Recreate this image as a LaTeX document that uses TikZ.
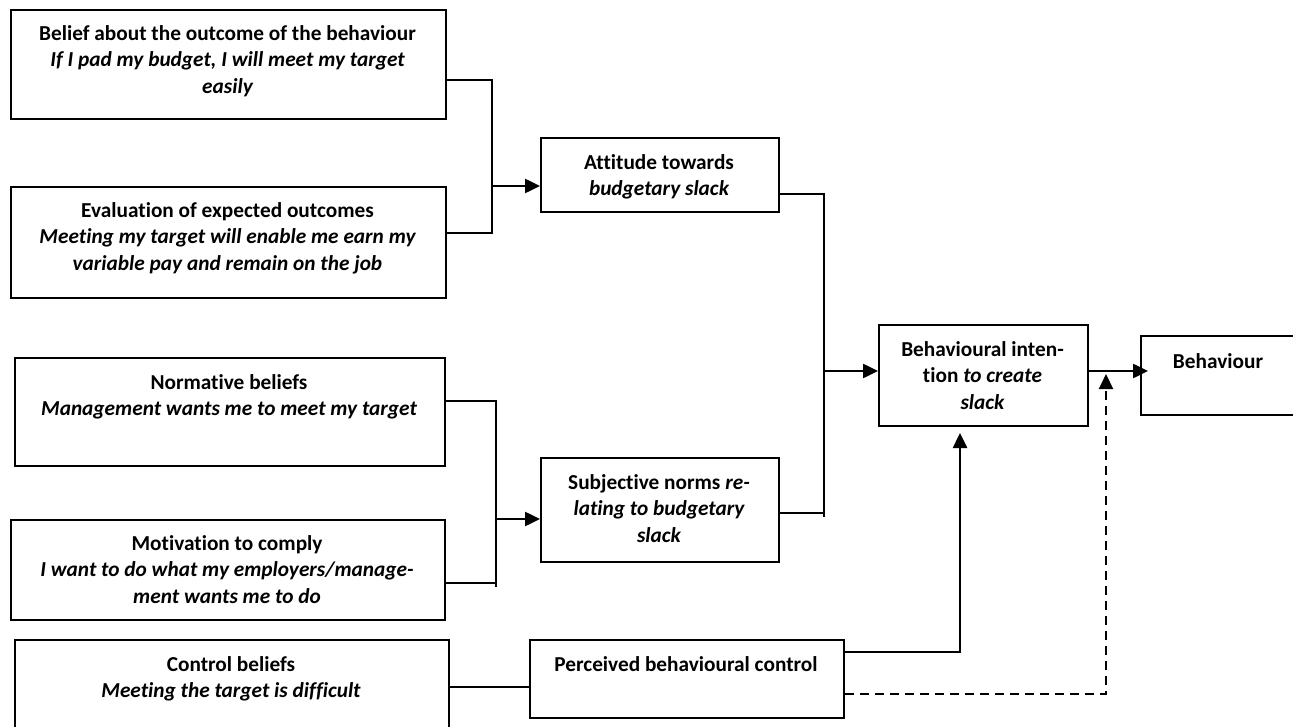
\documentclass[tikz,border=0pt]{standalone}
\usepackage{fontspec}
\setmainfont{Carlito}[Ligatures=NoCommon]
\usetikzlibrary{arrows.meta}
\tikzset{
  boxst/.style={draw, line width=2pt, rectangle, anchor=north west, inner sep=0pt},
  txt/.style={align=center, inner sep=0pt, anchor=north, font=\fontsize{21.3}{26.5}\selectfont\bfseries},
  conn/.style={line width=2pt},
  arr/.style={line width=2.5pt, -{Triangle[length=15pt,width=14pt]}},
  dashconn/.style={line width=2pt, dash pattern=on 9pt off 6pt, -{Triangle[length=15pt,width=14pt]}}
}
\newcommand{\bx}[5]{\node[boxst, minimum width=#4pt, minimum height=#5pt] (#1) at (#2,#3) {};}
\begin{document}
\begin{tikzpicture}[x=1pt,y=-1pt]
\clip (0,0) rectangle (1293,727);
\fill[white] (0,0) rectangle (1293,727);
% boxes: name, x, y, width, height
\bx{belief}{10}{9}{435}{109}
\bx{eval}{10}{186}{435}{111}
\bx{att}{540}{137}{238}{74}
\bx{norm}{14}{357}{430}{108}
\bx{motiv}{10}{519}{434}{100}
\bx{subj}{540}{457}{238}{104}
\bx{ctrl}{14}{639}{434}{100}
\bx{pbc}{529}{639}{314}{78}
\bx{bi}{878}{324}{209}{101}
\bx{beh}{1140}{335}{156}{79}
% texts
\node[txt] (belief-t) at (227.5,21.5) {\strut Belief about the outcome of the behaviour\\\itshape If I pad my budget, I will meet my target\\\itshape easily};
\node[txt] (eval-t) at (227.5,198.5) {\strut Evaluation of expected outcomes\\\itshape Meeting my target will enable me earn my\\\itshape variable pay and remain on the job};
\node[txt] (att-t) at (659,150.5) {\strut Attitude towards\\\itshape budgetary slack};
\node[txt] (norm-t) at (229,370.5) {\strut Normative beliefs\\\itshape Management wants me to meet my target};
\node[txt] (motiv-t) at (227,531.5) {\strut Motivation to comply\\\itshape I want to do what my employers/manage-\\\itshape ment wants me to do};
\node[txt] (subj-t) at (659,470.5) {\strut Subjective norms \textit{re-}\\\itshape lating to budgetary\\\itshape slack};
\node[txt] (ctrl-t) at (231,652.5) {\strut Control beliefs\\\itshape Meeting the target is difficult};
\node[txt] (pbc-t) at (686,652.5) {\strut Perceived behavioural control};
\node[txt] (bi-t) at (982.5,337.5) {\strut Behavioural inten-\\tion \textit{to create}\\\itshape slack};
\node[txt] (beh-t) at (1218,349.5) {\strut Behaviour};
% junction coordinates
\coordinate (ja) at (492,80);
\coordinate (jb) at (492,233);
\coordinate (jc) at (492,186);
\coordinate (jd) at (496,401);
\coordinate (je) at (496,587);
\coordinate (jf) at (496,519);
\coordinate (jm) at (496,583);
\coordinate (jg) at (824,194);
\coordinate (jh) at (824,517);
\coordinate (js) at (824,513);
\coordinate (ji) at (824,371);
\coordinate (jk) at (687,687);
\coordinate (jp) at (960,652);
\coordinate (jq) at (1106,694);
\coordinate (jr) at (1106,374);
\coordinate (jt) at (1148,371);
% connectors
\draw[conn] (belief.east |- ja) -- (ja) -- (jb) -- (eval.east |- jb);
\draw[arr] (jc) -- (jc -| att.west);
\draw[conn] (norm.east |- jd) -- (jd) -- (je);
\draw[conn] (motiv.east |- jm) -- (jm);
\draw[arr] (jf) -- (jf -| subj.west);
\draw[conn] (att.east |- jg) -- (jg) -- (jh);
\draw[conn] (subj.east |- js) -- (js);
\draw[arr] (ji) -- (ji -| bi.west);
\draw[line width=2.5pt] (ctrl.east |- jk) -- (jk -| pbc.west);
\draw[arr, shorten >=6pt] (pbc.east |- jp) -- (jp) -- (jp |- bi.south);
\draw[dashconn] (pbc.east |- jq) -- (jq) -- (jr);
\draw[arr] (bi.east |- jt) -- (jt);
\end{tikzpicture}
\end{document}
